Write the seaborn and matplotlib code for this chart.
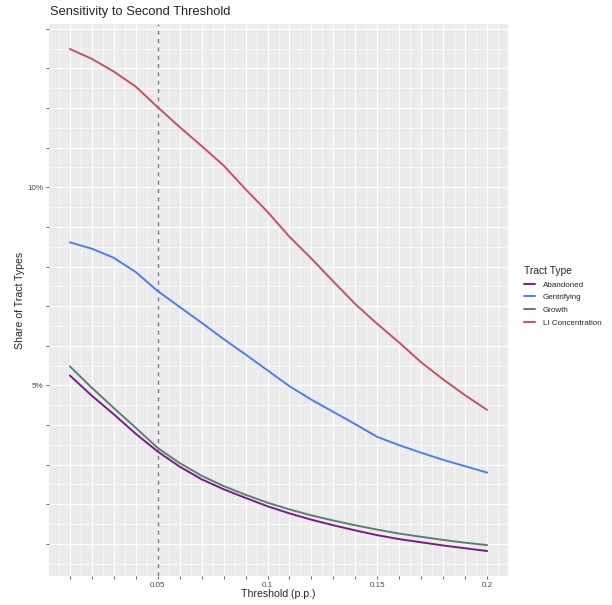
import numpy as np
import pandas as pd
import matplotlib
matplotlib.use("Agg")
import matplotlib.pyplot as plt
import seaborn as sns
from matplotlib.ticker import FixedLocator, FixedFormatter

# Threshold values (p.p.) and share of tract types (%)
thresholds = [0.01, 0.02, 0.03, 0.04, 0.05, 0.06, 0.07, 0.08, 0.09, 0.10,
              0.11, 0.12, 0.13, 0.14, 0.15, 0.16, 0.17, 0.18, 0.19, 0.20]
abandoned = [5.25, 4.74, 4.27, 3.78, 3.33, 2.95, 2.63, 2.38, 2.16, 1.95,
             1.77, 1.61, 1.47, 1.34, 1.22, 1.12, 1.04, 0.96, 0.89, 0.82]
gentrifying = [8.61, 8.45, 8.22, 7.86, 7.38, 6.98, 6.58, 6.17, 5.78, 5.38,
               4.98, 4.64, 4.33, 4.02, 3.70, 3.49, 3.30, 3.12, 2.96, 2.80]
growth = [5.48, 4.94, 4.43, 3.93, 3.42, 3.04, 2.72, 2.46, 2.24, 2.04,
          1.87, 1.72, 1.59, 1.47, 1.36, 1.26, 1.18, 1.10, 1.03, 0.97]
li_concentration = [13.49, 13.24, 12.92, 12.54, 12.02, 11.52, 11.04, 10.55, 9.95, 9.38,
                    8.75, 8.20, 7.62, 7.05, 6.55, 6.08, 5.58, 5.15, 4.75, 4.38]

tract_types = ["Abandoned", "Gentrifying", "Growth", "LI Concentration"]
colors = ["#7b1a8c", "#4b7ff0", "#5c806e", "#c8505f"]


def main():
    df = pd.concat([
        pd.DataFrame({"threshold": thresholds, "share": vals, "Tract Type": name})
        for name, vals in zip(tract_types, [abandoned, gentrifying, growth, li_concentration])
    ])

    sns.set_theme(style="darkgrid")
    plt.rcParams["font.family"] = ["Liberation Sans", "DejaVu Sans"]

    W, H = 612, 605
    fig = plt.figure(figsize=(W / 100, H / 100), dpi=100)
    ax = fig.add_axes([49 / W, 1 - 576 / H, (508 - 49) / W, (576 - 24) / H])
    ax.set_facecolor("#ebebeb")

    sns.lineplot(
        data=df,
        x="threshold",
        y="share",
        hue="Tract Type",
        hue_order=tract_types,
        palette=colors,
        linewidth=1.4,
        ax=ax,
        legend=True,
    )
    ax.axvline(0.05, color="#808080", linestyle=(0, (3, 3)), linewidth=1.0, zorder=1.5)

    ax.set_xlim(0.0005, 0.2095)
    ax.set_ylim(0.19, 14.12)

    # ticks: every 0.01 / 1%, labels only on a few
    xt = [round(0.01 * i, 2) for i in range(1, 21)]
    xl = [("%g" % v) if i % 5 == 0 else "" for i, v in enumerate(xt, start=1)]
    ax.xaxis.set_major_locator(FixedLocator(xt))
    ax.xaxis.set_major_formatter(FixedFormatter(xl))
    ax.xaxis.set_minor_locator(FixedLocator([0.005 + 0.01 * i for i in range(21)]))

    yt = list(range(1, 15))
    yl = ["5%" if v == 5 else "10%" if v == 10 else "" for v in yt]
    ax.yaxis.set_major_locator(FixedLocator(yt))
    ax.yaxis.set_major_formatter(FixedFormatter(yl))
    ax.yaxis.set_minor_locator(FixedLocator([0.5 + i for i in range(14)]))

    ax.grid(which="major", color="white", linewidth=0.8)
    ax.grid(which="minor", color="white", linewidth=0.45)
    for s in ax.spines.values():
        s.set_visible(False)
    ax.tick_params(which="major", bottom=True, left=True, length=2.5, width=0.6,
                   color="#4d4d4d", labelsize=5.8, labelcolor="#4d4d4d", pad=1.5)
    ax.tick_params(which="minor", bottom=False, left=False, length=0)

    ax.set_xlabel("")
    ax.set_ylabel("")
    fig.text(278.5 / W, 1 - 594 / H, "Threshold (p.p.)", ha="center", va="center", fontsize=7.6)
    fig.text(20 / W, 1 - 300 / H, "Share of Tract Types", ha="center", va="center",
             rotation=90, fontsize=7.6)
    fig.text(50 / W, 1 - 12 / H, "Sensitivity to Second Threshold", ha="left", va="center",
             fontsize=9.3)

    handles, labels = ax.get_legend_handles_labels()
    ax.legend_.remove()
    leg = fig.legend(
        handles, labels,
        title="Tract Type",
        loc="upper left",
        bbox_to_anchor=(524 / W, 1 - 266 / H),
        frameon=False,
        fontsize=5.8,
        title_fontsize=7.4,
        handlelength=1.4,
        handletextpad=0.9,
        labelspacing=0.62,
        borderpad=0,
        borderaxespad=0,
        alignment="left",
    )
    for h in leg.legend_handles:
        h.set_linewidth(1.4)

    fig.savefig("out.png", dpi=100)
    plt.close(fig)


if __name__ == "__main__":
    main()
